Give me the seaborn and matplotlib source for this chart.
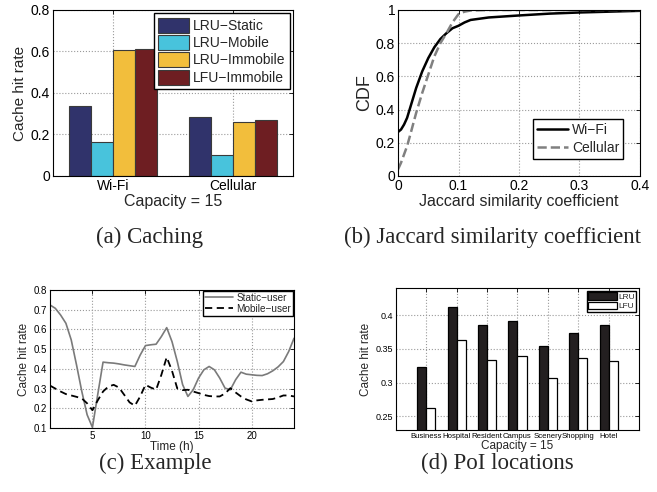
import numpy as np
import pandas as pd
import matplotlib
matplotlib.use('Agg')
import matplotlib.pyplot as plt
import seaborn as sns

# ---- data ----
networks = ['Wi-Fi', 'Cellular']
schemes = ['LRU\u2212Static', 'LRU\u2212Mobile', 'LRU\u2212Immobile', 'LFU\u2212Immobile']
hit_wifi = [0.335, 0.162, 0.605, 0.610]
hit_cellular = [0.285, 0.103, 0.262, 0.270]
scheme_colors = ['#30336B', '#48C3DC', '#F2BE3C', '#6E1E22']

cdf_x = [0, 0.005, 0.01, 0.015, 0.02, 0.03, 0.04, 0.05, 0.06, 0.07, 0.08, 0.09,
         0.10, 0.11, 0.12, 0.15, 0.20, 0.25, 0.30, 0.35, 0.40]
cdf_wifi = [0.265, 0.28, 0.31, 0.35, 0.41, 0.53, 0.63, 0.71, 0.775, 0.825, 0.86, 0.89,
            0.905, 0.925, 0.94, 0.955, 0.967, 0.978, 0.985, 0.99, 0.995]
cdf_cellular = [0.04, 0.08, 0.13, 0.18, 0.245, 0.38, 0.50, 0.61, 0.72, 0.80, 0.86, 0.925,
                0.975, 0.99, 0.997, 1.0, 1.0, 1.0, 1.0, 1.0, 1.0]

hours = [1, 1.5, 2, 2.5, 3, 3.5, 4, 4.5, 5, 5.5, 6, 6.5, 7, 7.5, 8, 8.5, 9, 9.5,
         10, 10.5, 11, 11.5, 12, 12.5, 13, 13.5, 14, 14.5, 15, 15.5, 16, 16.5,
         17, 17.5, 18, 18.5, 19, 19.5, 20, 20.5, 21, 21.5, 22, 22.5, 23, 23.5, 24]
static_user = [0.724, 0.707, 0.673, 0.631, 0.547, 0.420, 0.285, 0.167, 0.103, 0.270,
               0.434, 0.431, 0.429, 0.425, 0.420, 0.416, 0.412, 0.470, 0.518, 0.522,
               0.525, 0.564, 0.609, 0.538, 0.437, 0.320, 0.260, 0.294, 0.353, 0.395,
               0.412, 0.395, 0.353, 0.302, 0.294, 0.345, 0.383, 0.373, 0.370, 0.367,
               0.366, 0.375, 0.390, 0.410, 0.437, 0.488, 0.555]
mobile_user = [0.315, 0.300, 0.285, 0.272, 0.265, 0.258, 0.250, 0.225, 0.190, 0.240,
               0.285, 0.310, 0.319, 0.305, 0.268, 0.230, 0.213, 0.260, 0.319, 0.305,
               0.294, 0.370, 0.459, 0.390, 0.300, 0.292, 0.294, 0.285, 0.277, 0.268,
               0.262, 0.260, 0.260, 0.275, 0.302, 0.280, 0.260, 0.245, 0.235, 0.240,
               0.243, 0.245, 0.247, 0.255, 0.265, 0.265, 0.260]

locations = ['Business', 'Hospital', 'Resident', 'Campus', 'Scenery', 'Shopping', 'Hotel']
hit_lru = [0.323, 0.412, 0.385, 0.391, 0.354, 0.374, 0.385]
hit_lfu = [0.262, 0.363, 0.334, 0.340, 0.307, 0.336, 0.332]

# ---- style ----
sns.set_style('white')
plt.rcParams['font.family'] = ['Liberation Sans', 'DejaVu Sans']
plt.rcParams['xtick.direction'] = 'in'
plt.rcParams['ytick.direction'] = 'in'
plt.rcParams['axes.edgecolor'] = 'black'
plt.rcParams['axes.linewidth'] = 0.8

grid_kw = dict(color='#9a9a9a', linestyle=':', linewidth=0.8)


def matlab_axes(ax, tick_size):
    ax.tick_params(top=True, right=True, labelsize=tick_size, length=3,
                   width=0.6, colors='black', pad=2)
    ax.set_axisbelow(True)
    ax.grid(True, **grid_kw)
    for s in ax.spines.values():
        s.set_visible(True)
        s.set_color('black')


def num_fmt(v, pos=None):
    return '0' if v == 0 else ('1' if v == 1 else f'{v:g}')


fig = plt.figure(figsize=(6.57, 4.92), dpi=100)

# (a) caching
ax_a = fig.add_axes([0.0807, 0.6423, 0.3653, 0.3374])
df_a = pd.DataFrame({
    'network': np.repeat(networks, len(schemes)),
    'scheme': schemes * len(networks),
    'rate': hit_wifi + hit_cellular,
})
sns.barplot(data=df_a, x='network', y='rate', hue='scheme', hue_order=schemes,
            palette=scheme_colors, width=0.73, errorbar=None, ax=ax_a,
            edgecolor='#3a3a3a', linewidth=0.8, saturation=1)
ax_a.set_xlim(-0.5, 1.5)
ax_a.set_ylim(0, 0.8)
ax_a.set_yticks([0, 0.2, 0.4, 0.6, 0.8])
ax_a.yaxis.set_major_formatter(plt.FuncFormatter(num_fmt))
matlab_axes(ax_a, 10)
ax_a.set_xlabel('Capacity = 15', fontsize=11.5, labelpad=1)
ax_a.set_ylabel('Cache hit rate', fontsize=11, labelpad=3)
h, l = ax_a.get_legend_handles_labels()
ax_a.legend(h, l, loc='upper right', fontsize=10, frameon=True, fancybox=False,
            edgecolor='black', framealpha=1, borderaxespad=0.25, handlelength=2.2,
            handleheight=1.3, handletextpad=0.3, labelspacing=0.15, borderpad=0.3)

# (b) Jaccard similarity coefficient
ax_b = fig.add_axes([0.6058, 0.6423, 0.3683, 0.3374])
df_b = pd.DataFrame({'x': cdf_x, 'wifi': cdf_wifi, 'cellular': cdf_cellular})
sns.lineplot(data=df_b, x='x', y='wifi', color='black', linewidth=1.8,
             ax=ax_b, label='Wi\u2212Fi')
sns.lineplot(data=df_b, x='x', y='cellular', color='#808080', linewidth=1.8,
             linestyle='--', ax=ax_b, label='Cellular')
ax_b.set_xlim(0, 0.4)
ax_b.set_ylim(0, 1)
ax_b.set_xticks([0, 0.1, 0.2, 0.3, 0.4])
ax_b.set_yticks([0, 0.2, 0.4, 0.6, 0.8, 1])
ax_b.xaxis.set_major_formatter(plt.FuncFormatter(num_fmt))
ax_b.yaxis.set_major_formatter(plt.FuncFormatter(num_fmt))
matlab_axes(ax_b, 10)
ax_b.set_xlabel('Jaccard similarity coefficient', fontsize=11.5, labelpad=1)
ax_b.set_ylabel('CDF', fontsize=13, labelpad=2)
ax_b.legend(loc='lower right', fontsize=10, frameon=True, fancybox=False,
            edgecolor='black', framealpha=1, borderaxespad=1.2, handlelength=2.2,
            handletextpad=0.3, labelspacing=0.3, borderpad=0.3)

# (c) example
ax_c = fig.add_axes([0.0761, 0.1301, 0.3714, 0.2805])
df_c = pd.DataFrame({'hour': hours, 'static': static_user, 'mobile': mobile_user})
sns.lineplot(data=df_c, x='hour', y='static', color='#7a7a7a', linewidth=1.2,
             ax=ax_c, label='Static\u2212user')
sns.lineplot(data=df_c, x='hour', y='mobile', color='black', linewidth=1.3,
             linestyle=(0, (4, 2.5)), ax=ax_c, label='Mobile\u2212user')
ax_c.set_xlim(1, 24)
ax_c.set_ylim(0.1, 0.8)
ax_c.set_xticks([5, 10, 15, 20])
ax_c.set_yticks([0.1, 0.2, 0.3, 0.4, 0.5, 0.6, 0.7, 0.8])
matlab_axes(ax_c, 7)
ax_c.set_xlabel('Time (h)', fontsize=8.5, labelpad=0)
ax_c.set_ylabel('Cache hit rate', fontsize=8.5, labelpad=3)
ax_c.legend(loc='upper right', fontsize=7.2, frameon=True, fancybox=False,
            edgecolor='black', framealpha=1, borderaxespad=0.1, handlelength=2.8,
            handletextpad=0.3, labelspacing=0.1, borderpad=0.2)

# (d) PoI locations
ax_d = fig.add_axes([0.6027, 0.1260, 0.3699, 0.2886])
df_d = pd.DataFrame({
    'location': locations * 2,
    'policy': ['LRU'] * len(locations) + ['LFU'] * len(locations),
    'rate': hit_lru + hit_lfu,
})
sns.barplot(data=df_d, x='location', y='rate', hue='policy', hue_order=['LRU', 'LFU'],
            palette={'LRU': '#231F20', 'LFU': 'white'}, width=0.6, errorbar=None,
            ax=ax_d, edgecolor='black', linewidth=0.9, saturation=1)
ax_d.set_xlim(-1, 7)
ax_d.set_ylim(0.23, 0.44)
ax_d.set_yticks([0.25, 0.3, 0.35, 0.4])
ax_d.yaxis.set_major_formatter(plt.FuncFormatter(num_fmt))
matlab_axes(ax_d, 6.5)
ax_d.tick_params(axis='x', labelsize=5.6)
ax_d.set_xlabel('Capacity = 15', fontsize=8.5, labelpad=0)
ax_d.set_ylabel('Cache hit rate', fontsize=8.5, labelpad=3)
h, l = ax_d.get_legend_handles_labels()
ax_d.legend(h, l, loc='upper right', fontsize=6, frameon=True, fancybox=False,
            edgecolor='black', framealpha=1, borderaxespad=0.3, handlelength=3.4,
            handleheight=1.0, handletextpad=0.2, labelspacing=0.1, borderpad=0.2)

# captions
cap_kw = dict(ha='center', va='center', fontsize=16.5,
              family=['Liberation Serif', 'DejaVu Serif'])
fig.text(150 / 657, 1 - 237 / 492, '(a) Caching', **cap_kw)
fig.text(492 / 657, 1 - 237 / 492, '(b) Jaccard similarity coefficient', **cap_kw)
fig.text(155 / 657, 1 - 463 / 492, '(c) Example', **cap_kw)
fig.text(497 / 657, 1 - 463 / 492, '(d) PoI locations', **cap_kw)

fig.savefig('out.png', dpi=100)
